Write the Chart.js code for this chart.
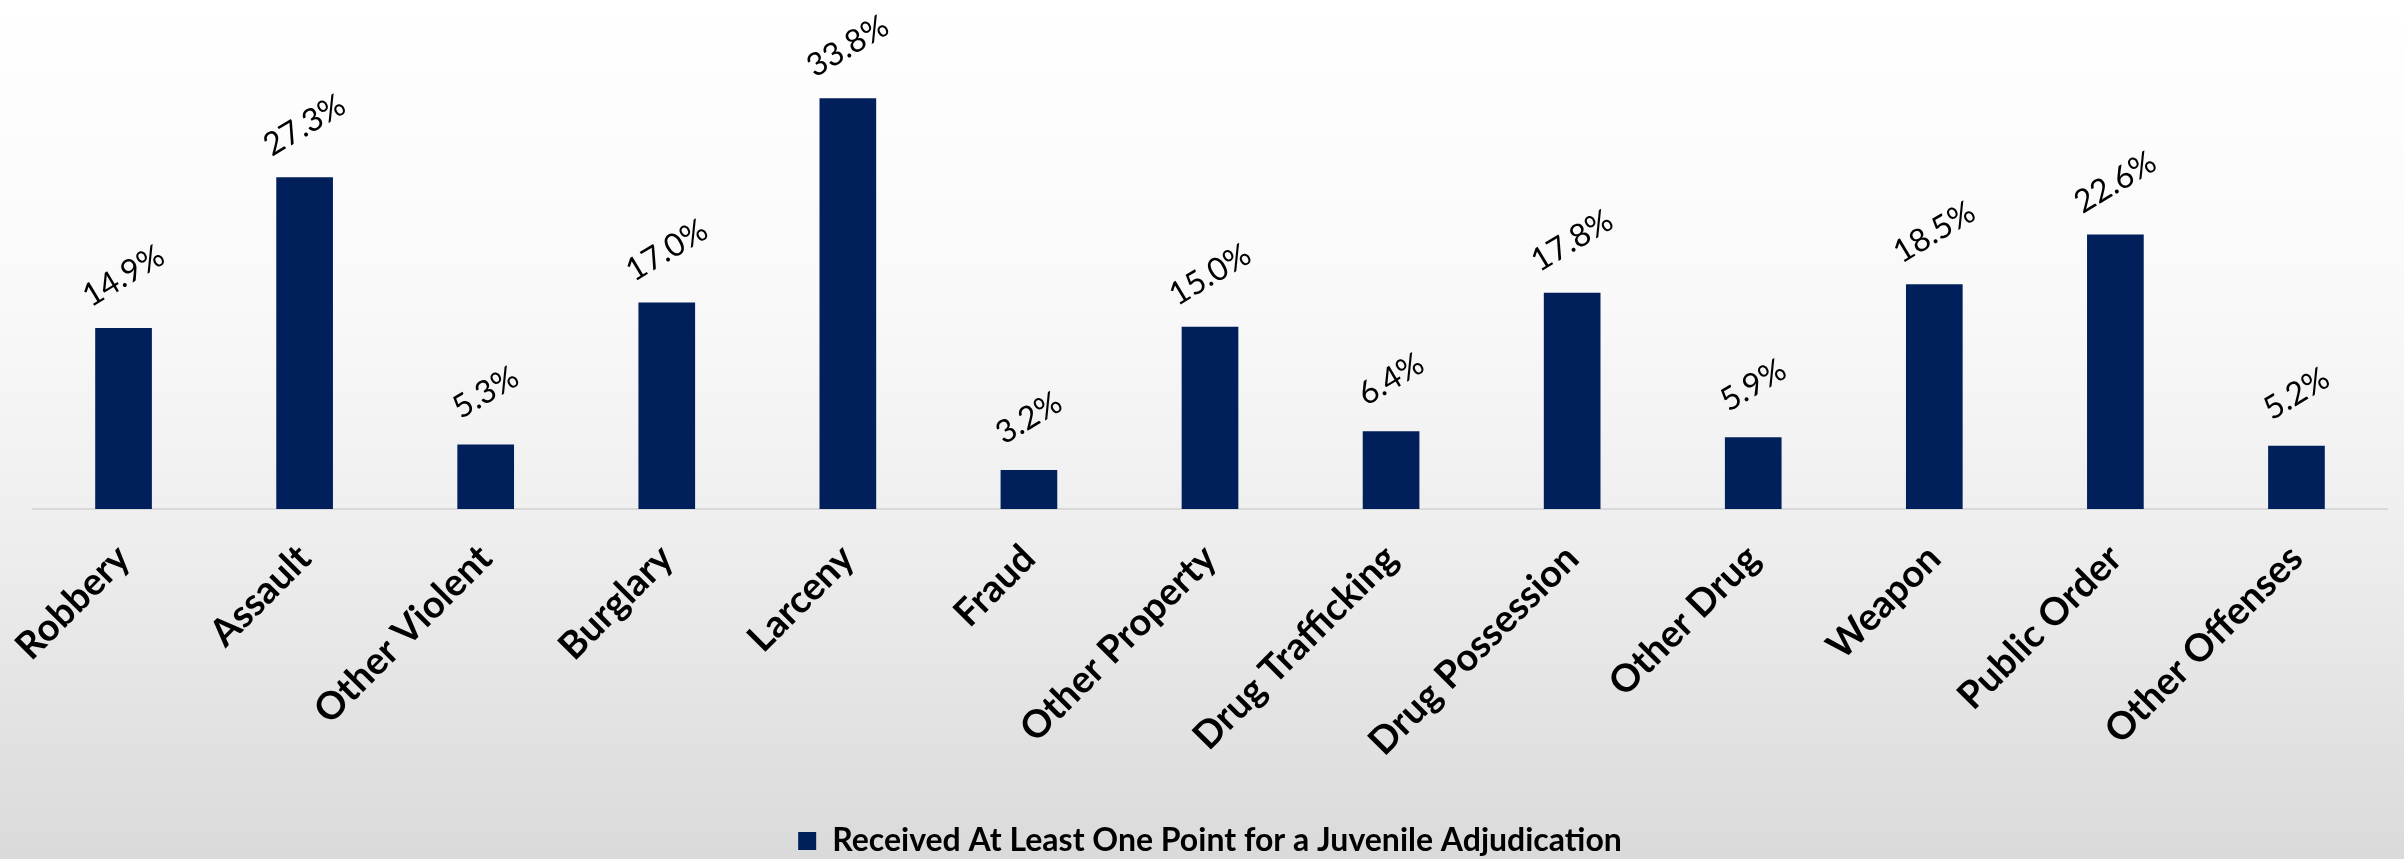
<!DOCTYPE html>
<html>
<head>
<meta charset="utf-8">
<script src="https://cdn.jsdelivr.net/npm/chart.js@4.4.1/dist/chart.umd.min.js"></script>
<style>
    html, body { margin: 0; padding: 0; }
    body {
        width: 2404px;
        height: 859px;
        background: linear-gradient(#ffffff 0%, #f9f9f9 35%, #efefef 60%, #dadada 100%);
    }
    canvas { display: block; }
</style>
</head>
<body>
<canvas id="juvenilePointsChart" width="2404" height="859"></canvas>
<script>
// offense categories
const categories = [
    'Robbery', 'Assault', 'Other Violent', 'Burglary', 'Larceny', 'Fraud',
    'Other Property', 'Drug Trafficking', 'Drug Possession', 'Other Drug',
    'Weapon', 'Public Order', 'Other Offenses'
];

// percent who received at least one point for a juvenile adjudication
const pctValues = [14.9, 27.3, 5.3, 17.0, 33.8, 3.2, 15.0, 6.4, 17.8, 5.9, 18.5, 22.6, 5.2];

const seriesName = 'Received At Least One Point for a Juvenile Adjudication';

(function () {
    const canvas = document.getElementById('juvenilePointsChart');
    if (!canvas) return;

    // draws the rotated % labels above each bar
    const valueLabels = {
        id: 'valueLabels',
        afterDatasetsDraw(chart) {
            const ctx = chart.ctx;
            const meta = chart.getDatasetMeta(0);
            ctx.save();
            ctx.fillStyle = '#000000';
            ctx.font = '32px Lato';
            ctx.textAlign = 'center';
            ctx.textBaseline = 'middle';
            meta.data.forEach((bar, i) => {
                ctx.save();
                ctx.translate(bar.x, bar.y - 52);
                ctx.rotate(-31 * Math.PI / 180);
                ctx.fillText(pctValues[i].toFixed(1) + '%', 0, 0);
                ctx.restore();
            });
            ctx.restore();
        }
    };

    const chartData = {
        labels: categories,
        datasets: [{
            label: seriesName,
            data: pctValues,
            backgroundColor: '#001f5b',
            borderWidth: 0,
            categoryPercentage: 1,
            barPercentage: 0.313
        }]
    };

    new Chart(canvas.getContext('2d'), {
        type: 'bar',
        data: chartData,
        plugins: [valueLabels],
        options: {
            responsive: false,
            devicePixelRatio: 1,
            animation: false,
            layout: {
                padding: { top: 23, left: 33, right: 17, bottom: -8 }
            },
            plugins: {
                legend: {
                    position: 'bottom',
                    labels: {
                        boxWidth: 18,
                        boxHeight: 18,
                        padding: 10,
                        color: '#000000',
                        font: { family: 'Lato', size: 32, weight: 'bold' }
                    }
                },
                tooltip: { enabled: false }
            },
            scales: {
                x: {
                    grid: { display: false, drawTicks: false },
                    border: { display: true, color: '#d9d9d9', width: 2 },
                    ticks: {
                        autoSkip: false,
                        minRotation: 45,
                        maxRotation: 45,
                        padding: 27,
                        color: '#000000',
                        font: { family: 'Lato', size: 38, weight: 'bold' }
                    },
                    afterFit(axis) {
                        axis.height = 306;
                        axis.paddingLeft = 0;
                        axis.paddingRight = 0;
                    }
                },
                y: {
                    display: false,
                    min: 0,
                    max: 40
                }
            }
        }
    });
})();
</script>
</body>
</html>
